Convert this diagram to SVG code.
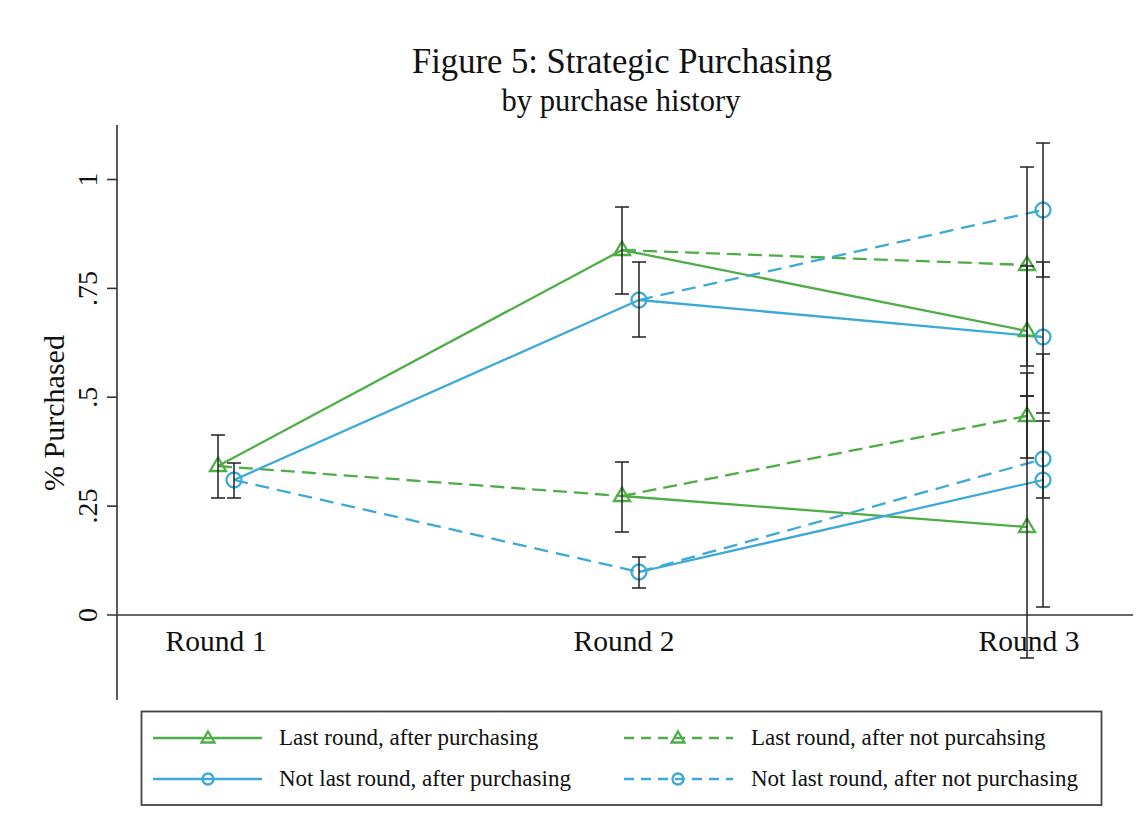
<svg xmlns="http://www.w3.org/2000/svg" width="1143" height="840" viewBox="0 0 1143 840">
<style>
text{font-family:"Liberation Serif","Times New Roman",serif;fill:#111}
.ax{stroke:#333;stroke-width:1.6;fill:none}
.gs{stroke:#4fad47;stroke-width:2.3;fill:none}
.gd{stroke:#4fad47;stroke-width:2.3;fill:none;stroke-dasharray:14 7}
.bs{stroke:#3da9d8;stroke-width:2.3;fill:none}
.bd{stroke:#3da9d8;stroke-width:2.3;fill:none;stroke-dasharray:14 8}
.eb{stroke:#222;stroke-width:1.5;fill:none}
.tri{stroke:#4fad47;stroke-width:2.3;fill:none}
.cir{stroke:#3da9d8;stroke-width:2.3;fill:none}
.tick{font-size:28px}
.leg{font-size:23px}
</style>
<defs>
<polygon id="tm" points="0,-8.5 8,5 -8,5"/>
<circle id="cm" r="7.5"/>
<polygon id="tms" points="0,-6.5 6.5,4.5 -6.5,4.5"/>
<circle id="cms" r="5.5"/>
</defs>
<rect width="1143" height="840" fill="#fff"/>

<g id="title">
<text x="622" y="73" font-size="36" text-anchor="middle" textLength="420" lengthAdjust="spacingAndGlyphs">Figure 5: Strategic Purchasing</text>
<text x="621" y="111" font-size="30.5" text-anchor="middle">by purchase history</text>
</g>

<g id="axes">
<line class="ax" x1="117" y1="125" x2="117" y2="700"/>
<line class="ax" x1="107" y1="615" x2="1133" y2="615"/>
<line class="ax" x1="107" y1="179.5" x2="117" y2="179.5"/>
<line class="ax" x1="107" y1="288.4" x2="117" y2="288.4"/>
<line class="ax" x1="107" y1="397.2" x2="117" y2="397.2"/>
<line class="ax" x1="107" y1="506.1" x2="117" y2="506.1"/>
<text class="tick" transform="translate(97,615) rotate(-90)" text-anchor="middle">0</text>
<text class="tick" transform="translate(97,506.1) rotate(-90)" text-anchor="middle">.25</text>
<text class="tick" transform="translate(97,397.2) rotate(-90)" text-anchor="middle">.5</text>
<text class="tick" transform="translate(97,288.4) rotate(-90)" text-anchor="middle">.75</text>
<text class="tick" transform="translate(97,179.5) rotate(-90)" text-anchor="middle">1</text>
<text transform="translate(64,413) rotate(-90)" font-size="30" text-anchor="middle">% Purchased</text>
<text x="216" y="651" font-size="29.5" text-anchor="middle">Round 1</text>
<text x="624" y="651" font-size="29.5" text-anchor="middle">Round 2</text>
<text x="1029" y="651" font-size="29.5" text-anchor="middle">Round 3</text>
</g>

<g id="connectors">
<line class="gs" x1="218" y1="466" x2="622" y2="250"/>
<line class="gs" x1="622" y1="250" x2="1027" y2="331"/>
<line class="gs" x1="622" y1="496" x2="1027" y2="527"/>
<line class="gd" x1="218" y1="466" x2="622" y2="496"/>
<line class="gd" x1="622" y1="250" x2="1027" y2="265"/>
<line class="gd" x1="622" y1="496" x2="1027" y2="416"/>
<line class="bs" x1="234" y1="480" x2="639" y2="300"/>
<line class="bs" x1="639" y1="300" x2="1043" y2="337"/>
<line class="bs" x1="639" y1="572" x2="1043" y2="480"/>
<line class="bd" x1="234" y1="480" x2="639" y2="572"/>
<line class="bd" x1="639" y1="300" x2="1043" y2="210"/>
<line class="bd" x1="639" y1="572" x2="1043" y2="459"/>
</g>

<g id="markers-green">
<use href="#tm" class="tri" x="218" y="466"/>
<use href="#tm" class="tri" x="622" y="250"/>
<use href="#tm" class="tri" x="622" y="496"/>
<use href="#tm" class="tri" x="1027" y="265"/>
<use href="#tm" class="tri" x="1027" y="331"/>
<use href="#tm" class="tri" x="1027" y="416"/>
<use href="#tm" class="tri" x="1027" y="527"/>
</g>
<g id="markers-blue">
<use href="#cm" class="cir" x="234" y="480"/>
<use href="#cm" class="cir" x="639" y="300"/>
<use href="#cm" class="cir" x="639" y="572"/>
<use href="#cm" class="cir" x="1043" y="210"/>
<use href="#cm" class="cir" x="1043" y="337"/>
<use href="#cm" class="cir" x="1043" y="459"/>
<use href="#cm" class="cir" x="1043" y="480"/>
</g>

<g id="error-bars" class="eb">
<path d="M218 435V498M211 435H225M211 498H225"/>
<path d="M234 463V498M227 463H241M227 498H241"/>
<path d="M622 207V294M615 207H629M615 294H629"/>
<path d="M622 462V532M615 462H629M615 532H629"/>
<path d="M639 262V337M632 262H646M632 337H646"/>
<path d="M639 557V588M632 557H646M632 588H646"/>
<path d="M1027 167V366M1020 167H1034M1020 366H1034"/>
<path d="M1027 266V396M1020 266H1034M1020 396H1034"/>
<path d="M1027 373V458M1020 373H1034M1020 458H1034"/>
<path d="M1027 396V658M1020 396H1034M1020 658H1034"/>
<path d="M1043 143V277M1036 143H1050M1036 277H1050"/>
<path d="M1043 262V413M1036 262H1050M1036 413H1050"/>
<path d="M1043 421V498M1036 421H1050M1036 498H1050"/>
<path d="M1043 354V607M1036 354H1050M1036 607H1050"/>
</g>

<g id="legend">
<rect x="141.5" y="711.5" width="960" height="93.5" fill="none" stroke="#444" stroke-width="1.8"/>
<line class="gs" x1="153" y1="738" x2="262" y2="738"/>
<use href="#tms" class="tri" x="208" y="738"/>
<text class="leg" x="279" y="745">Last round, after purchasing</text>
<line class="bs" x1="153" y1="779" x2="262" y2="779"/>
<use href="#cms" class="cir" x="208" y="779"/>
<text class="leg" x="279" y="786">Not last round, after purchasing</text>
<line class="gd" x1="624" y1="738" x2="733" y2="738" style="stroke-dasharray:10 7"/>
<use href="#tms" class="tri" x="678" y="738"/>
<text class="leg" x="751" y="745">Last round, after not purcahsing</text>
<line class="bd" x1="624" y1="779" x2="733" y2="779" style="stroke-dasharray:10 7"/>
<use href="#cms" class="cir" x="678" y="779"/>
<text class="leg" x="751" y="786">Not last round, after not purchasing</text>
</g>
</svg>
